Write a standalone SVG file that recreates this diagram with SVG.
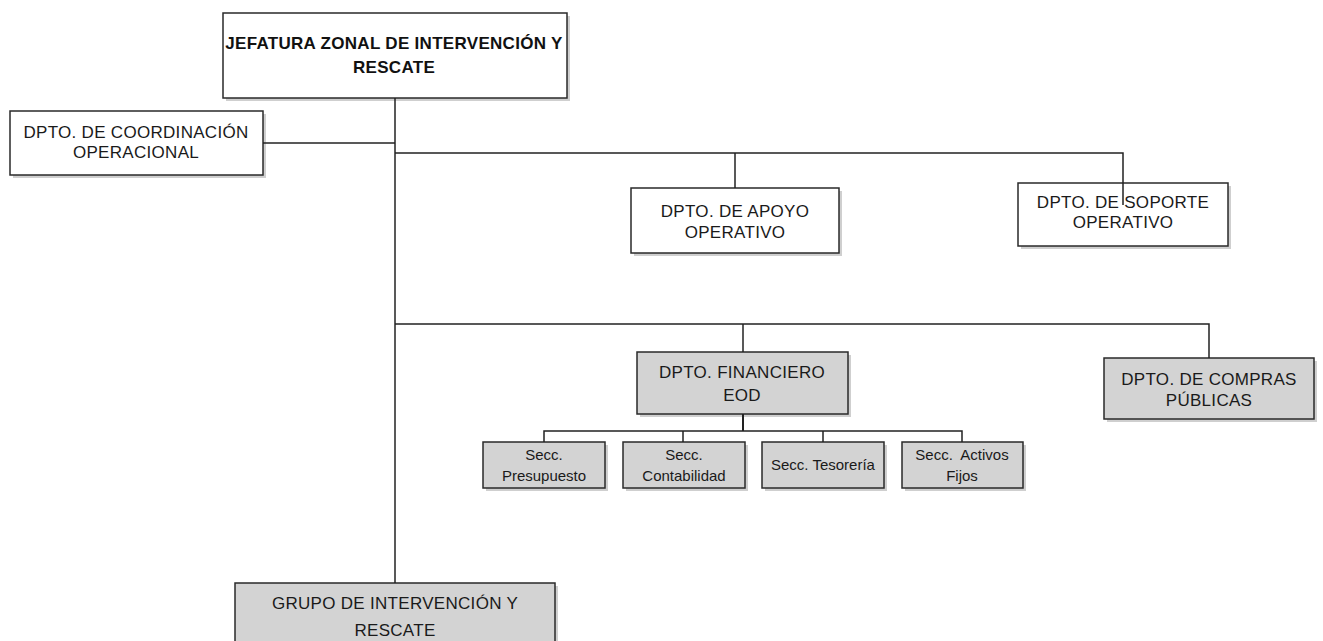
<svg xmlns="http://www.w3.org/2000/svg" width="1323" height="641" viewBox="0 0 1323 641">
<style>
.bg{fill:#ffffff}
.sh{fill:#cfcfcf}
.bw{fill:#ffffff;stroke:#2a2a2a;stroke-width:1.5}
.bg2{fill:#d3d3d3;stroke:#2a2a2a;stroke-width:1.5}
.t{font-family:"Liberation Sans",Arial,sans-serif;font-size:17px;letter-spacing:0.3px;fill:#1a1a1a;text-anchor:middle}
.tb{font-family:"Liberation Sans",Arial,sans-serif;font-size:17px;letter-spacing:0.3px;font-weight:bold;fill:#111;text-anchor:middle}
.ts{font-family:"Liberation Sans",Arial,sans-serif;font-size:15px;fill:#1a1a1a;text-anchor:middle}
.c{fill:none;stroke:#222;stroke-width:1.5}
</style>
<rect class="bg" x="0" y="0" width="1323" height="641"/>
<g id="jefatura">
<rect class="sh" x="226" y="16" width="344" height="85"/>
<rect class="bw" x="223" y="13" width="344" height="85"/>
<text class="tb" x="394" y="49">JEFATURA ZONAL DE INTERVENCIÓN Y</text>
<text class="tb" x="394" y="73">RESCATE</text>
</g>
<g id="coordinacion">
<rect class="sh" x="13" y="114" width="253" height="64"/>
<rect class="bw" x="10" y="111" width="253" height="64"/>
<text class="t" x="136" y="138">DPTO. DE COORDINACIÓN</text>
<text class="t" x="136" y="158">OPERACIONAL</text>
</g>
<g id="apoyo">
<rect class="sh" x="634" y="191" width="208" height="65"/>
<rect class="bw" x="631" y="188" width="208" height="65"/>
<text class="t" x="735" y="217">DPTO. DE APOYO</text>
<text class="t" x="735" y="238">OPERATIVO</text>
</g>
<g id="soporte">
<rect class="sh" x="1021" y="186" width="210" height="63"/>
<rect class="bw" x="1018" y="183" width="210" height="63"/>
<text class="t" x="1123" y="208">DPTO. DE SOPORTE</text>
<text class="t" x="1123" y="228">OPERATIVO</text>
</g>
<g id="financiero">
<rect class="sh" x="640" y="355" width="211" height="62"/>
<rect class="bg2" x="637" y="352" width="211" height="62"/>
<text class="t" x="742" y="378">DPTO. FINANCIERO</text>
<text class="t" x="742" y="401">EOD</text>
</g>
<g id="compras">
<rect class="sh" x="1107" y="361" width="210" height="61"/>
<rect class="bg2" x="1104" y="358" width="210" height="61"/>
<text class="t" x="1209" y="385">DPTO. DE COMPRAS</text>
<text class="t" x="1209" y="406">PÚBLICAS</text>
</g>
<g id="presupuesto">
<rect class="sh" x="486" y="445" width="122" height="46"/>
<rect class="bg2" x="483" y="442" width="122" height="46"/>
<text class="ts" x="544" y="460">Secc.</text>
<text class="ts" x="544" y="481">Presupuesto</text>
</g>
<g id="contabilidad">
<rect class="sh" x="626" y="445" width="122" height="46"/>
<rect class="bg2" x="623" y="442" width="122" height="46"/>
<text class="ts" x="684" y="460">Secc.</text>
<text class="ts" x="684" y="481">Contabilidad</text>
</g>
<g id="tesoreria">
<rect class="sh" x="765" y="445" width="122" height="46"/>
<rect class="bg2" x="762" y="442" width="122" height="46"/>
<text class="ts" x="823" y="470">Secc. Tesorería</text>
</g>
<g id="activos">
<rect class="sh" x="905" y="445" width="121" height="46"/>
<rect class="bg2" x="902" y="442" width="121" height="46"/>
<text class="ts" x="962" y="460" xml:space="preserve">Secc.  Activos</text>
<text class="ts" x="962" y="481">Fijos</text>
</g>
<g id="grupo">
<rect class="sh" x="238" y="586" width="320" height="60"/>
<rect class="bg2" x="235" y="583" width="320" height="60"/>
<text class="t" x="395" y="609">GRUPO DE INTERVENCIÓN Y</text>
<text class="t" x="395" y="636">RESCATE</text>
</g>
<g id="connectors">
<path class="c" d="M395 98 V583"/>
<path class="c" d="M263 143 H395"/>
<path class="c" d="M395 153 H1123 V205"/>
<path class="c" d="M735 153 V188"/>
<path class="c" d="M395 324 H1209 V358"/>
<path class="c" d="M743 324 V352"/>
<path class="c" d="M743 414 V431" style="stroke-width:2"/>
<path class="c" d="M544 442 V431 H962 V442"/>
<path class="c" d="M683 431 V442"/>
<path class="c" d="M823 431 V442"/>
</g>
</svg>
